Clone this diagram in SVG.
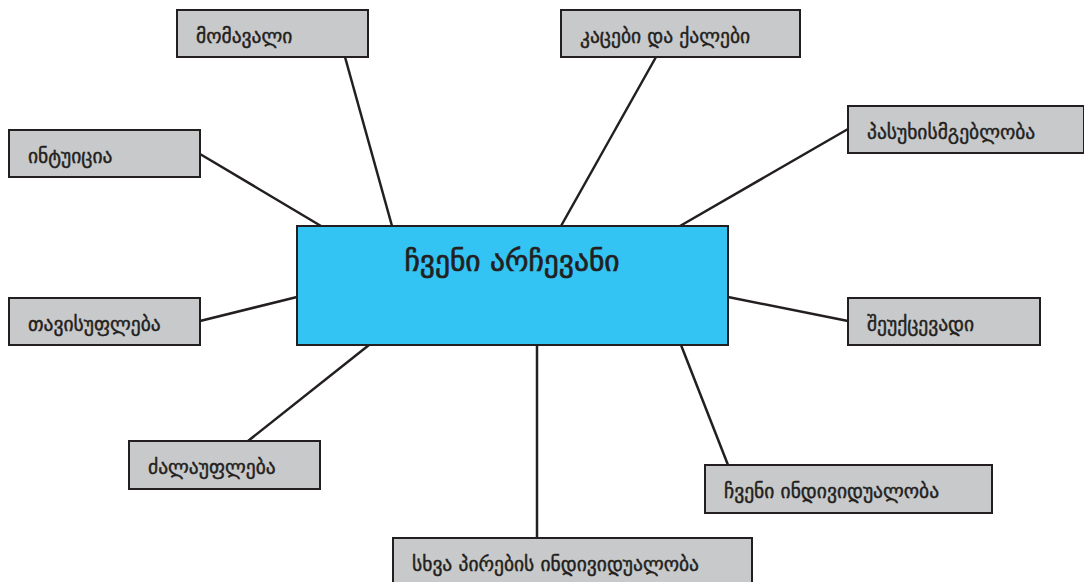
<svg xmlns="http://www.w3.org/2000/svg" width="1084" height="582" viewBox="0 0 1084 582">
<style>
.box{fill:#c8c9ca;stroke:#231f20;stroke-width:2}
.center{fill:#33c4f3;stroke:#231f20;stroke-width:2}
.lbl{font-family:"DejaVu Sans",sans-serif;font-size:19.5px;fill:#231f20;stroke:#231f20;stroke-width:0.45}
.title{font-family:"DejaVu Sans",sans-serif;font-size:29.5px;fill:#231f20;stroke:#231f20;stroke-width:0.7;text-anchor:middle}
.conn line{stroke:#231f20;stroke-width:2.5}
</style>
<rect width="1084" height="582" fill="#fff"/>
<g class="conn" id="connectors">
<line x1="345" y1="57" x2="392" y2="226"/>
<line x1="656" y1="57" x2="561" y2="226"/>
<line x1="200" y1="154" x2="321" y2="226"/>
<line x1="848" y1="129" x2="680" y2="226"/>
<line x1="200" y1="321" x2="297" y2="297"/>
<line x1="728" y1="297" x2="848" y2="321"/>
<line x1="248" y1="441" x2="369" y2="345"/>
<line x1="681" y1="345" x2="728" y2="465"/>
<line x1="537" y1="345" x2="537" y2="538"/>
</g>
<g id="center"><rect class="center" x="297" y="226" width="431" height="119"/><text class="title" x="512" y="271">ჩვენი არჩევანი</text></g>
<g id="n1"><rect class="box" x="177" y="10" width="191" height="47"/><text class="lbl" x="196" y="43">მომავალი</text></g>
<g id="n2"><rect class="box" x="561" y="10" width="239" height="47"/><text class="lbl" x="580" y="43">კაცები და ქალები</text></g>
<g id="n3"><rect class="box" x="9" y="130" width="191" height="47"/><text class="lbl" x="28" y="163">ინტუიცია</text></g>
<g id="n4"><rect class="box" x="848" y="106" width="236" height="47"/><text class="lbl" x="867" y="139">პასუხისმგებლობა</text></g>
<g id="n5"><rect class="box" x="9" y="298" width="191" height="47"/><text class="lbl" x="28" y="331">თავისუფლება</text></g>
<g id="n6"><rect class="box" x="848" y="298" width="192" height="47"/><text class="lbl" x="867" y="331">შეუქცევადი</text></g>
<g id="n7"><rect class="box" x="129" y="441" width="191" height="48"/><text class="lbl" x="148" y="474">ძალაუფლება</text></g>
<g id="n8"><rect class="box" x="705" y="465" width="287" height="48"/><text class="lbl" x="724" y="498">ჩვენი ინდივიდუალობა</text></g>
<g id="n9"><rect class="box" x="393" y="538" width="359" height="50"/><text class="lbl" x="412" y="571">სხვა პირების ინდივიდუალობა</text></g>
</svg>
